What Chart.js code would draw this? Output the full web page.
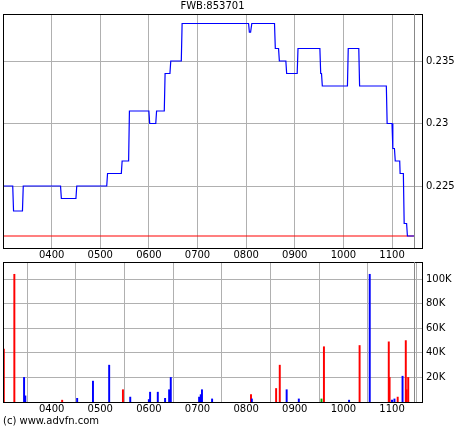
<!DOCTYPE html><html><head><meta charset="utf-8">
<script src="https://cdn.jsdelivr.net/npm/chart.js@4/dist/chart.umd.min.js"></script>
<style>body{margin:0;background:#fff;width:460px;height:430px;position:relative;overflow:hidden;font-family:"DejaVu Sans",sans-serif}
canvas{position:absolute;left:0}
#c1{top:0}#c2{top:248px}
#title{position:absolute;top:0;left:0;width:425px;text-align:center;font-size:10px}
#cp{position:absolute;left:3px;top:415px;font-size:10px}</style></head><body>
<canvas id="c1" width="460" height="262"></canvas>
<canvas id="c2" width="460" height="168"></canvas>
<div id="title">FWB:853701</div><div id="cp">(c) www.advfn.com</div>
<script>
const priceTimes=[180,192,193,204,205,251,252,270,271,308,309,326,327,335,336,360,361,368.5,369.5,379,380,386,387,400,401,483,484,485.5,487,515,516,520,521,529,530,543,544,571,572,573,574,605,606,619,620,653,654,660,661,663,664,669.5,670,674,675,678,679,688];
const prices=[0.225,0.225,0.223,0.223,0.225,0.225,0.224,0.224,0.225,0.225,0.226,0.226,0.227,0.227,0.231,0.231,0.230,0.230,0.231,0.231,0.234,0.234,0.235,0.235,0.238,0.238,0.2373,0.2373,0.238,0.238,0.236,0.236,0.235,0.235,0.234,0.234,0.236,0.236,0.234,0.234,0.233,0.233,0.236,0.236,0.233,0.233,0.230,0.230,0.228,0.228,0.227,0.227,0.226,0.226,0.222,0.222,0.221,0.221];
const refPrice=0.221;
const volTimes=[181,194,206,207.5,253,271.5,291,311,328,337,360,361.5,371,380,385,387,422,424,425.5,438,486,487,517,521.5,530,545,573,576,607,620,632.5,656,657,660,663,667,673,677,678,680];
const volumes=[43,104,20,5,1.5,3,17,30,10,4,2,8,8,3,10,20,4,6,10,2.5,6,2.5,11,30,10,2.5,2.5,45,1.5,46,104,49,20,1.5,2.5,4,21,50,10,20];
const volSide=['r','r','b','b','r','b','b','b','r','b','b','b','b','b','b','b','b','b','b','b','r','b','r','r','b','b','g','r','b','r','b','r','r','b','b','r','b','r','r','r'];
const xTicks=[240,300,360,420,480,540,600,660];
const endTime=687;
const XMIN=180,XMAX=697;
const sideColor={r:'#ff0000',b:'#0000ff',g:'#00aa00'};
const fmt=v=>{const h=Math.floor(v/60),m=Math.round(v%60);return String(h).padStart(2,'0')+String(m).padStart(2,'0');};
const frame={id:'frame',afterDraw(c){const a=c.chartArea,x=c.ctx;x.save();x.strokeStyle='#000';x.lineWidth=1;x.strokeRect(a.left+.5,a.top+.5,a.right-a.left,a.bottom-a.top);
 const px=c.scales.x.getPixelForValue(endTime);x.strokeStyle='#888';x.beginPath();x.moveTo(Math.round(px)+.5,a.top);x.lineTo(Math.round(px)+.5,a.bottom);x.stroke();x.restore();}};
const font={family:'DejaVu Sans',size:10};
function xScale(showLabels){return {type:'linear',min:XMIN,max:XMAX,afterBuildTicks:s=>{s.ticks=xTicks.map(v=>({value:v}))},
 ticks:{display:showLabels,font,color:'#000',callback:v=>fmt(v),maxRotation:0,autoSkip:false,padding:1},
 grid:{color:'#b0b0b0',drawTicks:false},border:{display:false},afterFit:s=>{s.height=showLabels?14:0}};}
new Chart(document.getElementById('c1'),{type:'line',data:{datasets:[
 {data:priceTimes.map((t,i)=>({x:t,y:prices[i]})),borderColor:'#0000ff',borderWidth:1.2,pointRadius:0,tension:0},
 {data:[{x:XMIN,y:refPrice},{x:endTime,y:refPrice}],borderColor:'#ff0000',borderWidth:1.2,pointRadius:0}]},
 options:{animation:false,responsive:false,events:[],layout:{padding:{left:3,top:14,right:0,bottom:0}},
 plugins:{legend:{display:false},tooltip:{enabled:false}},
 scales:{x:xScale(true),y:{position:'right',min:0.22004,max:0.23876,afterBuildTicks:s=>{s.ticks=[0.225,0.23,0.235].map(v=>({value:v}))},
 ticks:{font,color:'#000',callback:v=>String(+v.toFixed(3)),padding:4},grid:{color:'#b0b0b0',drawTicks:false},border:{display:false},afterFit:s=>{s.width=38}}}},plugins:[frame]});
new Chart(document.getElementById('c2'),{type:'bar',data:{datasets:[
 {data:volTimes.map((t,i)=>({x:t,y:volumes[i]})),backgroundColor:volSide.map(s=>sideColor[s]),barThickness:1.3,borderWidth:0}]},
 options:{animation:false,responsive:false,events:[],layout:{padding:{left:3,top:14,right:0,bottom:0}},
 plugins:{legend:{display:false},tooltip:{enabled:false}},
 scales:{x:Object.assign(xScale(true),{offset:false}),y:{position:'right',min:0,max:114,afterBuildTicks:s=>{s.ticks=[20,40,60,80,100].map(v=>({value:v}))},
 ticks:{font,color:'#000',callback:v=>v+'K',padding:4},grid:{color:'#b0b0b0',drawTicks:false},border:{display:false},afterFit:s=>{s.width=38}}}},plugins:[frame]});
</script></body></html>
